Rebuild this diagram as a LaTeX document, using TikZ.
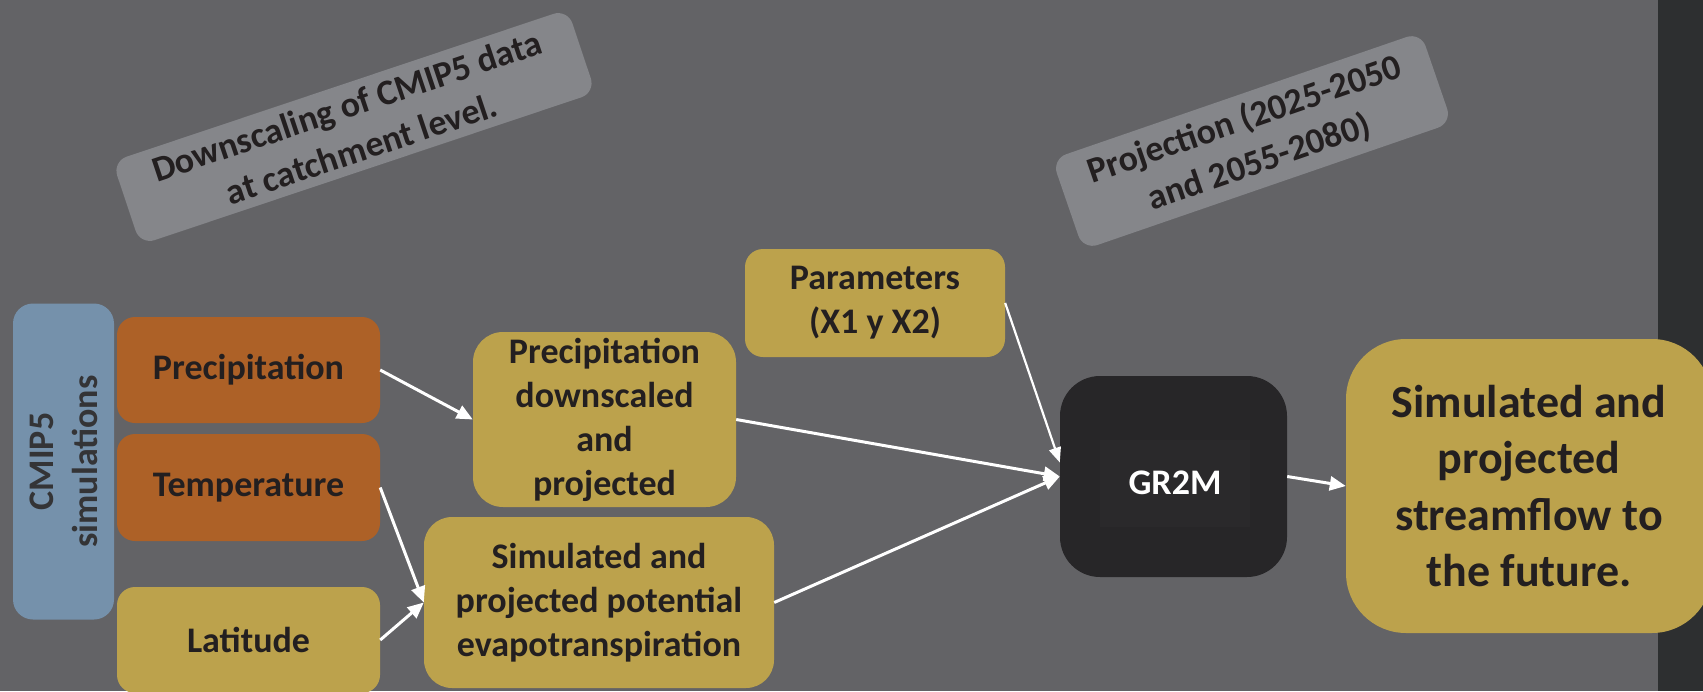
\documentclass[tikz,border=0pt]{standalone}
\usepackage{fontspec}
\setmainfont{Carlito}
\usetikzlibrary{arrows.meta}
\definecolor{bg}{HTML}{636366}
\definecolor{strip}{HTML}{2D2F30}
\definecolor{lbl}{HTML}{85868A}
\definecolor{cmipblue}{HTML}{7591AB}
\definecolor{orng}{HTML}{AD6127}
\definecolor{gold}{HTML}{BCA24C}
\definecolor{blk}{HTML}{272628}
\definecolor{blkin}{HTML}{2A292B}
\definecolor{txt}{HTML}{231F20}
\definecolor{cmiptxt}{HTML}{343436}
\begin{document}
\begin{tikzpicture}[x=1pt,y=-1pt,
  boxbase/.style={inner sep=0pt, align=center, text=txt,
    font=\bfseries\fontsize{36}{44}\selectfont},
  orangebox/.style={boxbase, fill=orng, rounded corners=18pt},
  goldbox/.style={boxbase, fill=gold, rounded corners=18pt},
  labelbox/.style={boxbase, fill=lbl, rounded corners=15pt,
    font=\bfseries\fontsize{36}{45}\selectfont},
  arr/.style={draw=white, line width=3pt, -{Triangle[length=16pt,width=14pt]}},
  thinarr/.style={draw=white, line width=2.2pt, -{Triangle[length=15pt,width=12pt]}}
]
\useasboundingbox (0,0) rectangle (1703,691);
\clip (0,0) rectangle (1703,691);
\fill[bg] (0,0) rectangle (1703,691);
\fill[strip] (1658,0) rectangle (1703,691);

% rotated labels
\node[labelbox, minimum width=480, minimum height=88, rotate=18.5] (down) at (354,127)
  {Downscaling of CMIP5 data\\at catchment level.};
\node[labelbox, minimum width=390, minimum height=96, rotate=19] (proj) at (1252,141)
  {Projection (2025-2050\\and 2055-2080)};

% CMIP5 column
\node[boxbase, fill=cmipblue, rounded corners=20pt, minimum width=101, minimum height=316]
  (cmip) at (63.5,461.5) {};
\node[boxbase, text=cmiptxt, rotate=90] (cmiptext) at (63.5,461.5) {CMIP5\\simulations};

% inputs
\node[orangebox, minimum width=263, minimum height=106] (prec) at (248.5,370) {Precipitation};
\node[orangebox, minimum width=263, minimum height=107] (temp) at (248.5,487.5) {Temperature};
\node[goldbox, minimum width=263, minimum height=106] (lat) at (248.5,640) {Latitude};

% intermediate
\node[goldbox, rounded corners=30pt, minimum width=263, minimum height=175] (pdp) at (604.5,419.5)
  {Precipitation\\downscaled\\and\\projected};
\node[goldbox, rounded corners=28pt, minimum width=350, minimum height=171] (pet) at (599,602.5)
  {Simulated and\\projected potential\\evapotranspiration};
\node[goldbox, minimum width=260, minimum height=108] (params) at (875,303)
  {Parameters\\(X1 y X2)};

% model
\node[boxbase, fill=blk, rounded corners=40pt, minimum width=227, minimum height=201] (gr2m) at (1173.5,476.5) {};
\node[boxbase, fill=blkin, text=white, minimum width=150, minimum height=87] (gr2mtext) at (1175,483) {GR2M};

% output
\node[goldbox, rounded corners=60pt, minimum width=366, minimum height=294,
  font=\bfseries\fontsize{46}{56.5}\selectfont] (final) at (1529,486)
  {Simulated and\\projected\\streamflow to\\the future.};

% connectors
\draw[arr] (prec.east) -- (pdp.west);
\draw[arr] (temp.east) -- (pet.west);
\draw[arr] (lat.east) -- (pet.west);
\draw[arr] (pdp.east) -- (gr2m.west);
\draw[arr] (pet.east) -- (gr2m.west);
\draw[thinarr] (params.east) -- ([yshift=14pt]gr2m.west);
\draw[arr] (gr2m.east) -- (final.west);
\end{tikzpicture}
\end{document}
